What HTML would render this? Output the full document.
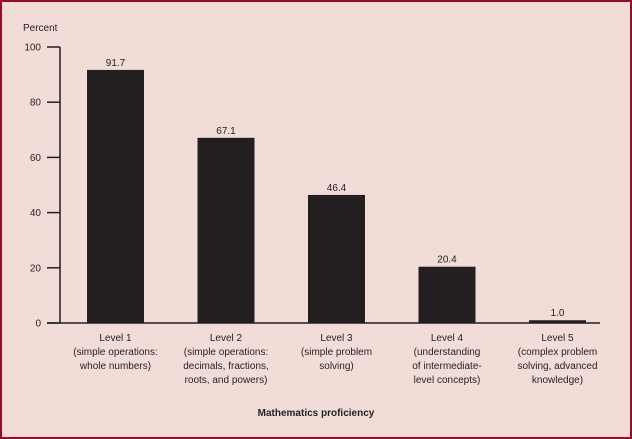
<!DOCTYPE html>
<html><head><meta charset="utf-8"><style>
html,body{margin:0;padding:0}
body{width:632px;height:439px;overflow:hidden;background:#f2dcd8;font-family:"Liberation Sans",sans-serif}
#frame{position:absolute;left:0;top:0;width:628px;height:435px;border:2px solid #9b0a2a;background:#f2dcd8}
</style></head><body>
<div id="frame"></div>
<svg id="c" width="632" height="439" style="position:absolute;left:0;top:0"></svg>
<script>
const categories=[["Level 1","(simple operations:","whole numbers)"],["Level 2","(simple operations:","decimals, fractions,","roots, and powers)"],["Level 3","(simple problem","solving)"],["Level 4","(understanding","of intermediate-","level concepts)"],["Level 5","(complex problem","solving, advanced","knowledge)"]];
const values=[91.7,67.1,46.4,20.4,1.0];
const valueLabels=["91.7","67.1","46.4","20.4","1.0"];
const ticks=[0,20,40,60,80,100];
const NS="http://www.w3.org/2000/svg";
const svg=document.getElementById('c');
const y0=323,y100=47,axisX=60;
const y=v=>y0-(y0-y100)*v/100;
const x=i=>115.5+i*110.5;
function el(t,a,txt){const e=document.createElementNS(NS,t);for(const k in a)e.setAttribute(k,a[k]);if(txt!=null)e.textContent=txt;svg.appendChild(e);return e;}
let e;
e=el('line',{x1:axisX,y1:y100,x2:axisX,y2:y0,stroke:'#231f20','stroke-width':1.5});


e=el('line',{x1:47,y1:y0,x2:600,y2:y0,stroke:'#231f20','stroke-width':1.5});


e=el('text',{x:23,y:31,'font-size':10,fill:'#231f20'},'Percent');


ticks.forEach(t=>{
 e=el('line',{x1:47,y1:y(t),x2:axisX,y2:y(t),stroke:'#231f20','stroke-width':1.5});
 
 
 e=el('text',{x:41,y:y(t)+3.5,'font-size':10,fill:'#231f20','text-anchor':'end'},String(t));
 
 
});
values.forEach((v,i)=>{
 e=el('rect',{x:x(i)-28.5,y:y(v),width:57,height:y0-y(v),fill:'#231f20'});
 
 
 e=el('text',{x:x(i),y:y(v)-4,'font-size':10,fill:'#231f20','text-anchor':'middle'},valueLabels[i]);
 
 
 categories[i].forEach((line,j)=>{
  e=el('text',{x:x(i),y:341+j*14,'font-size':10,fill:'#231f20','text-anchor':'middle'},line);
  
  
 });
});
e=el('text',{x:316,y:416,'font-size':10,'font-weight':'bold',fill:'#231f20','text-anchor':'middle'},'Mathematics proficiency');


</script>
</body></html>
